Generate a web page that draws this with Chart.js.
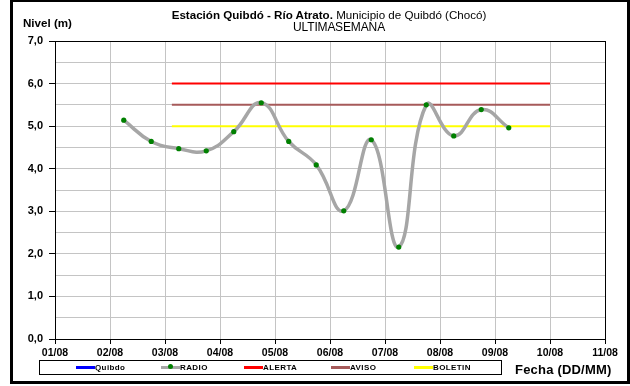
<!DOCTYPE html>
<html>
<head>
<meta charset="utf-8">
<script src="https://cdn.jsdelivr.net/npm/chart.js@4/dist/chart.umd.min.js"></script>
<style>
  html, body { margin: 0; padding: 0; background: #fff; }
  #wrap { position: relative; width: 630px; height: 386px; overflow: hidden; font-family: 'Liberation Sans', Arial, sans-serif; }
  #c { position: absolute; left: 0; top: 0; }
  #frame { position: absolute; left: 10px; top: -1px; width: 620px; height: 385px; border: 3px solid #000; box-sizing: border-box; pointer-events: none; }
  .t { position: absolute; white-space: nowrap; color: #000; }
  #title1 { left: 0; width: 658px; text-align: center; top: 8px; font-size: 11.6px; }
  #title2 { left: 0; width: 678px; text-align: center; top: 20px; font-size: 12px; letter-spacing: -0.1px; word-spacing: -3px; }
  #ylab { left: 23px; top: 16px; font-size: 11.6px; font-weight: bold; }
  #xlab { left: 515px; top: 362px; font-size: 13px; font-weight: bold; letter-spacing: 0.2px; }
  #legend { position: absolute; left: 39px; top: 360px; width: 463px; height: 15px; border: 1px solid #000; box-sizing: border-box; }
  .li { position: absolute; top: 0; height: 13px; }
  .lm { position: absolute; top: 5px; left: 0; width: 19px; height: 3px; }
  .ld { position: absolute; top: 3px; left: 7px; width: 5px; height: 5px; border-radius: 50%; background: #008000; }
  .lt { position: absolute; left: 19px; top: 0px; font-size: 8px; font-weight: bold; letter-spacing: 0.4px; line-height: 13px; }
</style>
</head>
<body>
<div id="wrap">
  <canvas id="c" width="630" height="386"></canvas>
  <div class="t" id="title1"><b>Estación Quibdó - Río Atrato.</b> Municipio de Quibdó (Chocó)</div>
  <div class="t" id="title2">ULTIMA SEMANA</div>
  <div class="t" id="ylab">Nivel (m)</div>
  <div class="t" id="xlab">Fecha (DD/MM)</div>
  <div id="legend"></div>
  <div id="frame"></div>
</div>
<script>
// ---- Data ----
const xTickLabels = ["01/08","02/08","03/08","04/08","05/08","06/08","07/08","08/08","09/08","10/08","11/08"];
const radioTimes = ["02/08 06:00","02/08 18:00","03/08 06:00","03/08 18:00","04/08 06:00","04/08 18:00",
                    "05/08 06:00","05/08 18:00","06/08 06:00","06/08 18:00","07/08 06:00","07/08 18:00",
                    "08/08 06:00","08/08 18:00","09/08 06:00"];
const radioValues = [5.14, 4.64, 4.47, 4.42, 4.87, 5.55, 4.64, 4.09, 3.01, 4.68, 2.16, 5.50, 4.77, 5.39, 4.96];
const quibdoTimes = [];
const quibdoValues = [];
const thresholdTimes = ["03/08 03:00", "10/08 00:00"];
const alertaLevel = 6.0;
const avisoLevel = 5.5;
const boletinLevel = 5.0;

// days since 01/08 00:00
function toDays(s) {
  const [d, t] = s.split(" ");
  const day = parseInt(d.split("/")[0], 10);
  const [h, m] = (t || "00:00").split(":").map(Number);
  return (day - 1) + (h + m / 60) / 24;
}
const pts = (times, vals) => times.map((t, i) => ({ x: toDays(t), y: vals[i] }));
const flat = (level) => thresholdTimes.map(t => ({ x: toDays(t), y: level }));

const framePlugin = {
  id: 'frame',
  beforeDatasetsDraw(chart) {
    const a = chart.chartArea, ctx = chart.ctx;
    ctx.save();
    ctx.strokeStyle = '#000';
    ctx.lineWidth = 1;
    ctx.strokeRect(Math.round(a.left) + 0.5, Math.round(a.top) + 0.5, Math.round(a.right - a.left), Math.round(a.bottom - a.top));
    ctx.restore();
  }
};

const chart = new Chart(document.getElementById('c'), {
  type: 'line',
  data: {
    datasets: [
      { label: 'Quibdo', data: pts(quibdoTimes, quibdoValues), borderColor: '#0000FF', backgroundColor: '#0000FF', borderWidth: 2, pointRadius: 0 },
      { label: 'RADIO', data: pts(radioTimes, radioValues), borderColor: '#A6A6A6', backgroundColor: '#008000',
        borderWidth: 3.5, tension: 0.45, pointRadius: 2.6, pointBorderWidth: 0, pointBackgroundColor: '#008000' },
      { label: 'ALERTA', data: flat(alertaLevel), borderColor: '#FF0000', backgroundColor: '#FF0000', borderWidth: 2, pointRadius: 0 },
      { label: 'AVISO', data: flat(avisoLevel), borderColor: '#A65A5A', backgroundColor: '#A65A5A', borderWidth: 2, pointRadius: 0 },
      { label: 'BOLETIN', data: flat(boletinLevel), borderColor: '#FFFF00', backgroundColor: '#FFFF00', borderWidth: 2, pointRadius: 0 }
    ]
  },
  options: {
    responsive: false,
    animation: false,
    layout: { padding: { top: 41, right: 25, left: 0, bottom: 0 } },
    plugins: { legend: { display: false }, title: { display: false }, tooltip: { enabled: false } },
    scales: {
      x: {
        type: 'linear', min: 0, max: 10,
        afterFit: (s) => { s.height = 47; },
        ticks: { stepSize: 1, autoSkip: false, maxRotation: 0, padding: 3, color: '#000',
                 font: { family: "'Liberation Sans', Arial", size: 10.5, weight: 'bold' },
                 callback: (v) => xTickLabels[v] },
        grid: { color: '#C4C4C4', lineWidth: 1, tickLength: 5, tickColor: '#000' },
        border: { color: '#000', width: 1 }
      },
      y: {
        min: 0, max: 7,
        afterFit: (s) => { s.width = 55; },
        ticks: { stepSize: 0.5, autoSkip: false, padding: 6, color: '#000',
                 font: { family: "'Liberation Sans', Arial", size: 11, weight: 'bold' },
                 callback: (v) => (Math.abs(v % 1) < 1e-9 ? v.toFixed(1).replace('.', ',') : '') },
        grid: { color: '#C4C4C4', lineWidth: 1, tickLength: 6,
                tickColor: (ctx) => (ctx.tick && Math.abs(ctx.tick.value % 1) < 1e-9 ? '#000' : 'rgba(0,0,0,0)') },
        border: { color: '#000', width: 1 }
      }
    }
  },
  plugins: [framePlugin]
});

// Legend built from datasets
const legend = document.getElementById('legend');
const starts = [36, 121, 204, 291, 374];
chart.data.datasets.forEach((ds, i) => {
  const it = document.createElement('div');
  it.className = 'li';
  it.style.left = starts[i] + 'px';
  const m = document.createElement('div');
  m.className = 'lm';
  m.style.background = ds.borderColor;
  it.appendChild(m);
  if (ds.label === 'RADIO') {
    const d = document.createElement('div');
    d.className = 'ld';
    it.appendChild(d);
  }
  const t = document.createElement('div');
  t.className = 'lt';
  t.textContent = ds.label;
  it.appendChild(t);
  legend.appendChild(it);
});
</script>
</body>
</html>
